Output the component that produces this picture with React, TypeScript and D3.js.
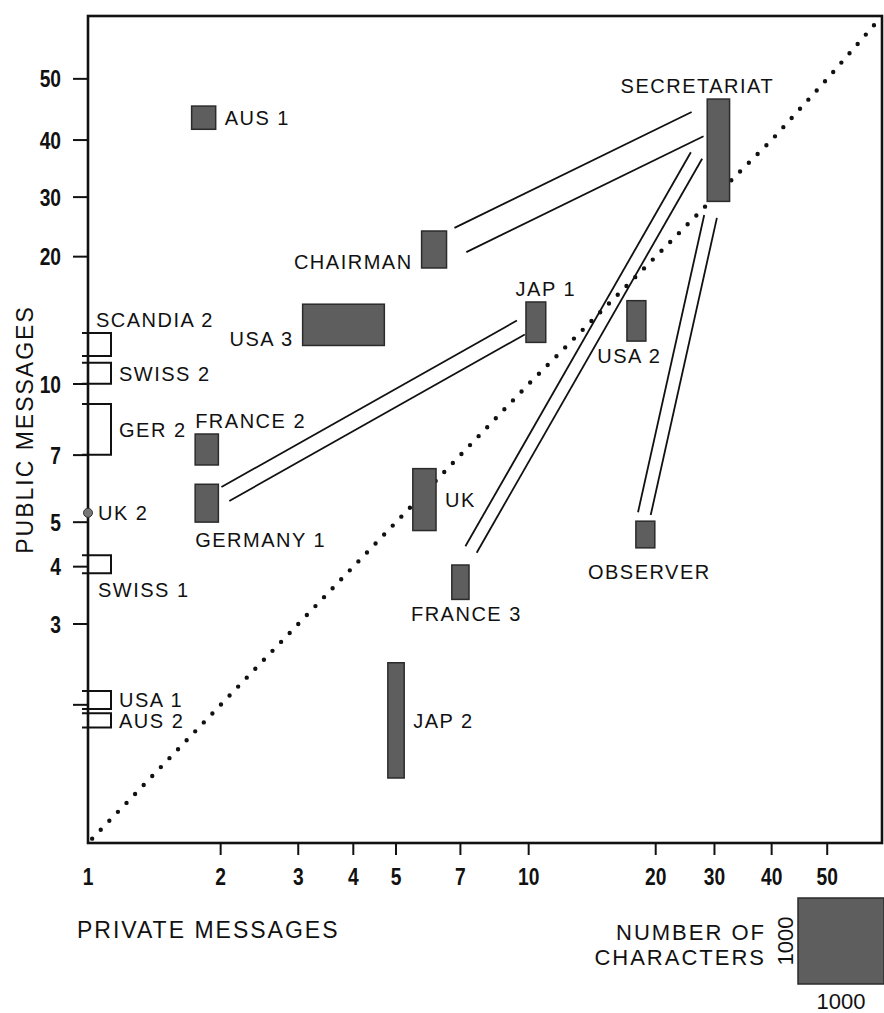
import React from 'react';
import * as d3 from 'd3';

// ---------- DATA ----------
const scaleBreaks = [1, 10, 20, 30, 40, 50, 60];
const xBreakFrac = [0, 0.555, 0.715, 0.789, 0.861, 0.931, 1];
const yBreakFrac = [0, 0.555, 0.709, 0.781, 0.85, 0.924, 1];

const xTicks = [2, 3, 4, 5, 7, 10, 20, 30, 40, 50];
const xTickLabels = ['1', '2', '3', '4', '5', '7', '10', '20', '30', '40', '50'];
const xTickLabelValues = [1, 2, 3, 4, 5, 7, 10, 20, 30, 40, 50];
const yTicks = [2, 3, 4, 5, 7, 10, 20, 30, 40, 50];
const yTickLabels = ['', '3', '4', '5', '7', '10', '20', '30', '40', '50'];

// Delegations with both private and public messages (boxes)
const names = ['AUS 1', 'CHAIRMAN', 'USA 3', 'JAP 1', 'UK', 'FRANCE 3', 'JAP 2', 'SECRETARIAT', 'USA 2', 'OBSERVER', 'FRANCE 2', 'GERMANY 1'];
const privateMsgs = [1.83, 6.1, 3.8, 10.4, 5.8, 7.0, 5.0, 30.6, 18.0, 18.9, 1.86, 1.86];
const publicMsgs = [43.4, 21.0, 13.8, 14.0, 5.6, 3.7, 1.85, 38.0, 14.1, 4.7, 7.2, 5.5];
const privateChars = [280, 290, 950, 230, 270, 200, 190, 260, 220, 220, 270, 270];
const publicChars = [270, 430, 480, 470, 720, 400, 1340, 1190, 470, 310, 360, 440];

// Delegations with public messages only (brackets on the axis)
const bracketNames = ['SCANDIA 2', 'SWISS 2', 'GER 2', 'SWISS 1', 'USA 1', 'AUS 2'];
const bracketPublic = [12.4, 10.6, 7.96, 4.05, 2.05, 1.85];
const bracketChars = [270, 245, 590, 210, 210, 165];

const dotNames = ['UK 2'];
const dotPublic = [5.24];

// Links (double lines)
const linkFrom = ['CHAIRMAN', 'GERMANY 1', 'FRANCE 3', 'OBSERVER'];
const linkTo = ['SECRETARIAT', 'JAP 1', 'SECRETARIAT', 'SECRETARIAT'];
const linkStart = [[7.0, 22.4], [2.05, 5.76], [7.4, 4.36], [18.8, 5.22]];
const linkEnd = [[26.7, 42.4], [9.6, 13.6], [26.5, 37.0], [29.2, 26.3]];

const legendChars = 1000;

// ---------- LAYOUT ----------
const W = 884, H = 1013;
const P = { left: 88, right: 882, top: 16, bottom: 843 };
const linkGap: Record<string, number> = { CHAIRMAN: 27, 'GERMANY 1': 16, 'FRANCE 3': 13, OBSERVER: 13 };
const labelLayout: Record<string, { pos: string; dx?: number; dy?: number; anchor?: string }> = {
  'AUS 1': { pos: 'r' },
  CHAIRMAN: { pos: 'l' },
  'USA 3': { pos: 'l' },
  'JAP 1': { pos: 't', dx: 10 },
  UK: { pos: 'r' },
  'FRANCE 3': { pos: 'b', dx: 6 },
  'JAP 2': { pos: 'r' },
  SECRETARIAT: { pos: 't', dx: -21 },
  'USA 2': { pos: 'b', dx: -7 },
  OBSERVER: { pos: 'b', dx: 4, dy: 9 },
  'FRANCE 2': { pos: 't', anchor: 'start' },
  'GERMANY 1': { pos: 'b', anchor: 'start', dy: 3 },
};
const bracketLayout: Record<string, string> = {
  'SCANDIA 2': 'above', 'SWISS 2': 'r', 'GER 2': 'r', 'SWISS 1': 'below', 'USA 1': 'r', 'AUS 2': 'r',
};

const labelFont = "'Liberation Sans', Arial, Helvetica, sans-serif";
const BOX_FILL = '#5e5e5e';
const BOX_STROKE = '#2b2b2b';

function TickText({ x, y, anchor, children }: any) {
  return (
    <text transform={`translate(${x},${y}) scale(0.8,1)`} textAnchor={anchor} fontFamily={labelFont} fontWeight="bold" fontSize={24} fill="#111">
      {children}
    </text>
  );
}

export default function App() {
  const x = d3.scaleLog().domain(scaleBreaks).range(xBreakFrac.map(f => P.left + f * (P.right - P.left)));
  const y = d3.scaleLog().domain(scaleBreaks).range(yBreakFrac.map(f => P.bottom - f * (P.bottom - P.top)));
  const cs = d3.scaleLinear().domain([0, 1000]).range([0, 86]);

  const boxes = names.map((n, i) => {
    const cx = x(privateMsgs[i]);
    const cy = y(publicMsgs[i]);
    const w = cs(privateChars[i]);
    const h = cs(publicChars[i]);
    return { n, x0: cx - w / 2, y0: cy - h / 2, w, h, cx, cy };
  });

  const diag = d3.line()(scaleBreaks.map(v => [x(v), y(v)] as [number, number]));

  const textStyle = { fontFamily: labelFont, fontSize: 20, letterSpacing: 1.5, fill: '#111' } as any;

  const bracketW = 23;
  const ax = x(1);

  return (
    <svg width={W} height={H} style={{ position: 'absolute', left: 0, top: 0, background: '#fff' }}>
      <rect x={0} y={0} width={W} height={H} fill="#fff" />
      {/* frame */}
      <rect x={P.left} y={P.top} width={P.right - P.left} height={P.bottom - P.top} fill="none" stroke="#111" strokeWidth={2.6} />

      {/* diagonal dotted line */}
      <path d={diag || ''} fill="none" stroke="#111" strokeWidth={4.4} strokeLinecap="round" strokeDasharray="0 12.4" strokeDashoffset={-6} />

      {/* x ticks */}
      {xTicks.map(v => (
        <line key={'xt' + v} x1={x(v)} x2={x(v)} y1={P.bottom} y2={P.bottom + 12} stroke="#111" strokeWidth={2} />
      ))}
      {xTickLabelValues.map((v, i) => (
        <TickText key={'xl' + v} x={x(v)} y={P.bottom + 42} anchor="middle">{xTickLabels[i]}</TickText>
      ))}

      {/* y ticks */}
      {yTicks.map(v => (
        <line key={'yt' + v} x1={P.left - 15} x2={P.left} y1={y(v)} y2={y(v)} stroke="#111" strokeWidth={2} />
      ))}
      {yTicks.map((v, i) => (
        yTickLabels[i] ? (
          <TickText key={'yl' + v} x={61} y={y(v) + 8.5} anchor="end">{yTickLabels[i]}</TickText>
        ) : null
      ))}

      {/* brackets for public-only delegations */}
      {bracketNames.map((n, i) => {
        const cy = y(bracketPublic[i]);
        const h = cs(bracketChars[i]);
        const t = cy - h / 2, b = cy + h / 2;
        const pos = bracketLayout[n];
        let label;
        if (pos === 'r') label = <text x={ax + bracketW + 8} y={cy} dy="0.36em" {...textStyle}>{n}</text>;
        else if (pos === 'above') label = <text x={ax + 8} y={t - 6} {...textStyle}>{n}</text>;
        else label = <text x={ax + 10} y={b + 24} {...textStyle}>{n}</text>;
        return (
          <g key={n}>
            <path d={`M${ax - 6},${t}H${ax + bracketW}V${b}H${ax - 6}`} fill="none" stroke="#111" strokeWidth={2} />
            {label}
          </g>
        );
      })}

      {/* dot for UK 2 */}
      {dotNames.map((n, i) => (
        <g key={n}>
          <circle cx={ax} cy={y(dotPublic[i])} r={4.5} fill="#777" stroke="#333" strokeWidth={1} />
          <text x={ax + 10} y={y(dotPublic[i])} dy="0.36em" {...textStyle}>{n}</text>
        </g>
      ))}

      {/* links */}
      {linkFrom.map((f, i) => {
        const sx = x(linkStart[i][0]), sy = y(linkStart[i][1]);
        const ex = x(linkEnd[i][0]), ey = y(linkEnd[i][1]);
        const len = Math.hypot(ex - sx, ey - sy);
        const ux = (ex - sx) / len, uy = (ey - sy) / len;
        const nx = -uy, ny = ux;
        const g = linkGap[f] / 2;
        return (
          <g key={'lk' + i} stroke="#111" strokeWidth={1.8}>
            <line x1={sx + nx * g} y1={sy + ny * g} x2={ex + nx * g} y2={ey + ny * g} />
            <line x1={sx - nx * g} y1={sy - ny * g} x2={ex - nx * g} y2={ey - ny * g} />
          </g>
        );
      })}

      {/* boxes */}
      {boxes.map(b => {
        const L = labelLayout[b.n];
        let tx = 0, ty = 0, anchor = 'start', dyStr: string | undefined;
        if (L.pos === 'r') { tx = b.x0 + b.w + 9; ty = b.cy; dyStr = '0.36em'; }
        else if (L.pos === 'l') { tx = b.x0 - 9; ty = b.y0 + b.h + 1; anchor = 'end'; }
        else if (L.pos === 't') { tx = L.anchor === 'start' ? b.x0 : b.cx; ty = b.y0 - 6; anchor = L.anchor || 'middle'; }
        else { tx = L.anchor === 'start' ? b.x0 : b.cx; ty = b.y0 + b.h + 22; anchor = L.anchor || 'middle'; }
        tx += L.dx || 0; ty += L.dy || 0;
        return (
          <g key={b.n}>
            <rect x={b.x0} y={b.y0} width={b.w} height={b.h} fill={BOX_FILL} stroke={BOX_STROKE} strokeWidth={1.5} />
            <text x={tx} y={ty} dy={dyStr} textAnchor={anchor} {...textStyle}>{b.n}</text>
          </g>
        );
      })}

      {/* axis titles */}
      <text transform={`translate(33,${(P.top + P.bottom) / 2}) rotate(-90)`} textAnchor="middle" fontFamily={labelFont} fontSize={23} letterSpacing={2} fill="#111">
        PUBLIC MESSAGES
      </text>
      <text x={77} y={938} fontFamily={labelFont} fontSize={23} letterSpacing={2} fill="#111">PRIVATE MESSAGES</text>

      {/* legend */}
      <rect x={798} y={898} width={cs(legendChars)} height={cs(legendChars)} fill={BOX_FILL} stroke={BOX_STROKE} strokeWidth={1.5} />
      <text x={766} y={940} textAnchor="end" fontFamily={labelFont} fontSize={22} letterSpacing={2} fill="#111">NUMBER OF</text>
      <text x={766} y={965} textAnchor="end" fontFamily={labelFont} fontSize={22} letterSpacing={2} fill="#111">CHARACTERS</text>
      <text transform={`translate(793,${898 + cs(legendChars) / 2}) rotate(-90)`} textAnchor="middle" fontFamily={labelFont} fontSize={22} fill="#111">
        {String(legendChars)}
      </text>
      <text x={798 + cs(legendChars) / 2} y={1009} textAnchor="middle" fontFamily={labelFont} fontSize={22} fill="#111">
        {String(legendChars)}
      </text>
    </svg>
  );
}
